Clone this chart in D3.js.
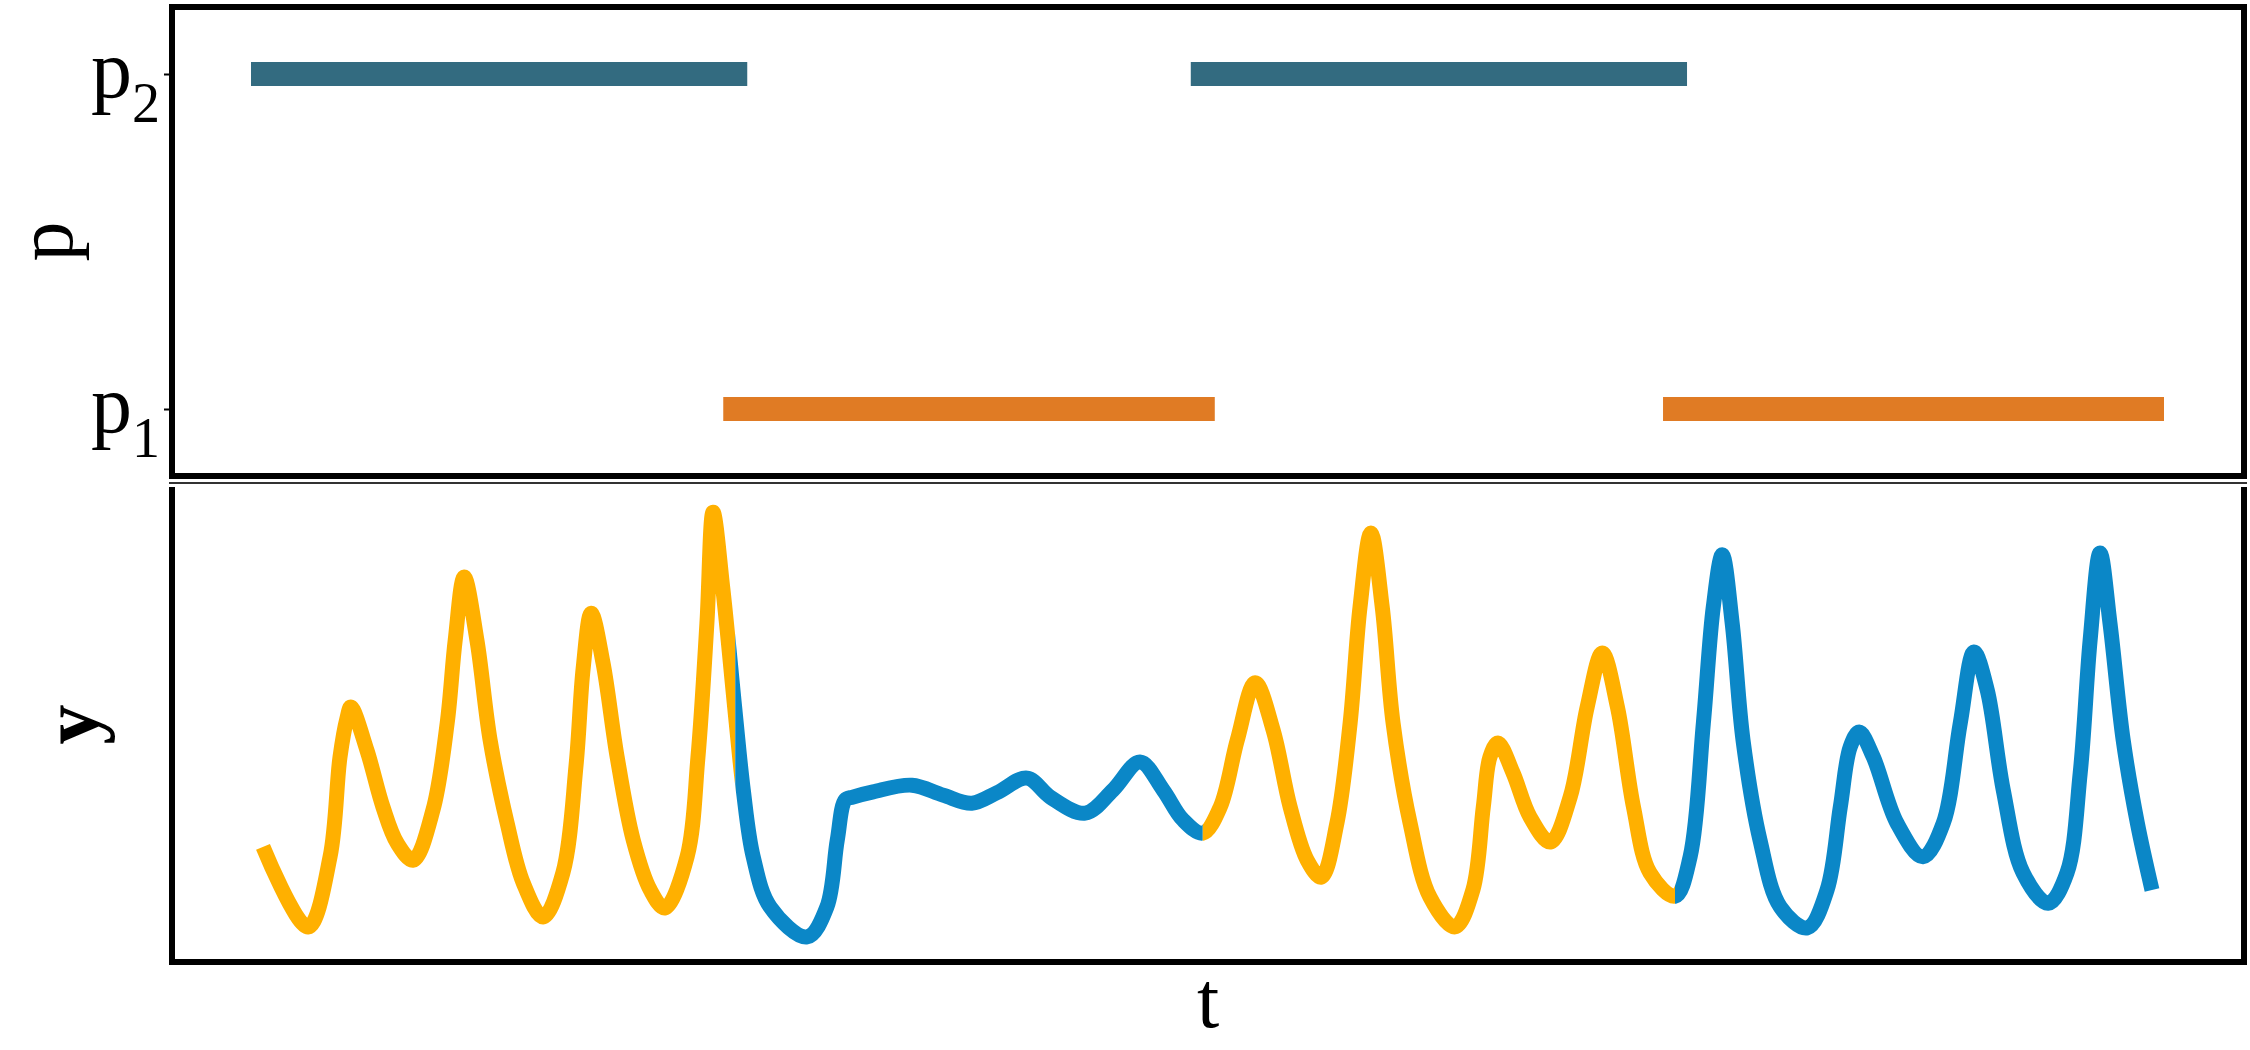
<!DOCTYPE html>
<html>
<head>
<meta charset="utf-8">
<script src="https://cdn.jsdelivr.net/npm/d3@7"></script>
<style>
  html, body { margin: 0; padding: 0; background: #ffffff; }
  svg { display: block; }
  .serif { font-family: "Liberation Serif", "Times New Roman", Times, "Nimbus Roman", Tinos, serif; }
</style>
</head>
<body>
<script>
// ---------------- data ----------------
const switchTimes = [0, 10, 19.9, 29.9, 40];
const modes = ["p2", "p1", "p2", "p1"];
const modeLevels = ["p1", "p2"];
const modeSubscripts = { p1: "1", p2: "2" };

const tValues = [
  0.00, 0.95, 1.42, 1.63, 1.78, 1.86, 2.20, 2.54, 2.84, 3.18, 3.60, 3.90, 4.07, 4.26, 4.53, 4.81, 5.17, 5.51, 5.93,
  6.35, 6.63, 6.78, 6.95, 7.20, 7.50, 7.84, 8.20, 8.51, 8.98, 9.21, 9.40, 9.53, 9.74, 10.00,
  10.17, 10.38, 10.74, 11.52, 11.94, 12.16, 12.33, 12.49, 12.92, 13.74, 14.40, 15.01, 15.54, 16.18, 16.67,
  17.41, 18.00, 18.57, 19.06, 19.48, 19.90,
  20.27, 20.63, 21.01, 21.39, 21.75, 22.11, 22.41, 22.74, 23.02, 23.23, 23.46, 23.70, 23.93, 24.29, 24.71,
  25.24, 25.62, 25.84, 25.98, 26.15, 26.47, 26.83, 27.26, 27.68, 28.04, 28.36, 28.68, 29.02, 29.37, 29.90,
  30.22, 30.50, 30.71, 30.90, 31.11, 31.34, 31.70, 32.13, 32.70, 33.12, 33.40, 33.61, 33.80, 34.10, 34.60,
  35.15, 35.58, 35.94, 36.23, 36.51, 36.85, 37.27, 37.80, 38.20, 38.48, 38.69, 38.90, 39.11, 39.39, 39.69, 40.00
];
const yValues = [
  2.43, 0.74, 2.22, 4.32, 5.15, 5.38, 4.47, 3.27, 2.51, 2.15, 3.21, 5.04, 6.79, 8.12, 6.79, 4.68, 2.93, 1.67, 0.95,
  1.88, 4.16, 6.20, 7.36, 6.31, 4.32, 2.57, 1.52, 1.14, 2.22, 4.32, 7.15, 9.49, 7.85, 5.25,
  3.63, 2.22, 1.16, 0.53, 1.16, 2.57, 3.42, 3.48, 3.59, 3.73, 3.52, 3.35, 3.57, 3.88, 3.48,
  3.14, 3.63, 4.22, 3.63, 3.00, 2.72,
  3.27, 4.68, 5.89, 4.89, 3.27, 2.15, 1.79, 2.93, 5.04, 7.49, 9.05, 7.49, 5.04, 2.93, 1.37,
  0.74, 1.52, 3.27, 4.32, 4.62, 3.99, 3.06, 2.53, 3.48, 5.38, 6.52, 5.38, 3.27, 1.88, 1.39,
  2.22, 5.04, 7.49, 8.59, 7.15, 4.68, 2.57, 1.16, 0.72, 1.52, 3.27, 4.54, 4.85, 4.32, 2.93,
  2.22, 2.93, 5.04, 6.54, 5.74, 3.63, 1.88, 1.24, 1.88, 3.99, 6.79, 8.63, 7.15, 4.68, 2.93, 1.52
];

// ---------------- styles ----------------
const barColors = { p2: "#336b80", p1: "#e07b24" };
const lineColors = ["#ffb000", "#0b87c7", "#ffb000", "#0b87c7"];

// ---------------- layout ----------------
const W = 2250, H = 1050;
const left = 172, right = 2244;
const top1 = 7, bottom1 = 476;
const top2 = 487, bottom2 = 962;

const svg = d3.select("body").append("svg")
  .attr("width", W).attr("height", H)
  .attr("viewBox", `0 0 ${W} ${H}`);

svg.append("rect").attr("width", W).attr("height", H).attr("fill", "#ffffff");

const x = d3.scaleLinear().domain([0, 40]).range([263, 2152]);
const yP = d3.scalePoint().domain(modeLevels).range([bottom1, top1]).padding(0.2);
const y = d3.scaleLinear().domain([0, 10]).range([962, 488]);

// ---------------- top panel: mode bars ----------------
const intervals = modes.map((m, i) => ({ mode: m, t0: switchTimes[i], t1: switchTimes[i + 1] }));

svg.append("g").selectAll("line")
  .data(intervals)
  .join("line")
  .attr("x1", d => x(d.t0))
  .attr("x2", d => x(d.t1))
  .attr("y1", d => yP(d.mode))
  .attr("y2", d => yP(d.mode))
  .attr("stroke", d => barColors[d.mode])
  .attr("stroke-width", 24)
  .attr("stroke-linecap", "square");

// axis ticks
const axP = svg.append("g")
  .attr("transform", `translate(${left - 3},0)`)
  .call(d3.axisLeft(yP).tickSize(5).tickFormat(""));
axP.select(".domain").remove();
axP.selectAll(".tick line").attr("stroke", "#000").attr("stroke-width", 2);

// tick labels with subscripts
const tickLabels = svg.append("g").selectAll("text")
  .data(modeLevels)
  .join("text")
  .attr("class", "serif")
  .attr("x", 160)
  .attr("y", d => yP(d) + 23)
  .attr("text-anchor", "end")
  .attr("font-size", 82)
  .attr("fill", "#000");
tickLabels.append("tspan").text("p");
tickLabels.append("tspan").attr("dy", 25).attr("font-size", 56).text(d => modeSubscripts[d]);

// frame top panel
svg.append("rect")
  .attr("x", left).attr("y", top1)
  .attr("width", right - left).attr("height", bottom1 - top1)
  .attr("fill", "none").attr("stroke", "#000").attr("stroke-width", 6);

// axis label p
svg.append("text")
  .attr("class", "serif")
  .attr("transform", `translate(72,${(top1 + bottom1) / 2}) rotate(-90)`)
  .attr("text-anchor", "middle")
  .attr("font-size", 80)
  .attr("fill", "#000")
  .text("p");

// ---------------- bottom panel: trajectory ----------------
const pts = tValues.map((t, i) => ({ t, v: yValues[i] }));
const lineGen = d3.line().x(d => x(d.t)).y(d => y(d.v)).curve(d3.curveCatmullRom.alpha(0.5));

const defs = svg.append("defs");
intervals.forEach((iv, i) => {
  const x0 = i === 0 ? 0 : x(iv.t0);
  const x1 = i === intervals.length - 1 ? W : x(iv.t1);
  defs.append("clipPath").attr("id", "seg" + i)
    .append("rect")
    .attr("x", x0).attr("y", 0)
    .attr("width", x1 - x0).attr("height", H);
});

const fullPath = lineGen(pts);
svg.append("g").selectAll("path")
  .data(intervals)
  .join("path")
  .attr("d", fullPath)
  .attr("clip-path", (d, i) => `url(#seg${i})`)
  .attr("fill", "none")
  .attr("stroke", (d, i) => lineColors[i])
  .attr("stroke-width", 15)
  .attr("stroke-linejoin", "round")
  .attr("stroke-linecap", "butt");

// frame bottom panel
svg.append("line")
  .attr("x1", left - 3).attr("x2", right + 3)
  .attr("y1", 483).attr("y2", 483)
  .attr("stroke", "#333").attr("stroke-width", 2);
svg.append("path")
  .attr("d", `M${left},${top2} V${bottom2} H${right} V${top2}`)
  .attr("fill", "none").attr("stroke", "#000").attr("stroke-width", 6);

// axis labels
svg.append("text")
  .attr("class", "serif")
  .attr("transform", `translate(98,${(top2 + bottom2) / 2}) rotate(-90)`)
  .attr("text-anchor", "middle")
  .attr("font-weight", "bold")
  .attr("font-size", 80)
  .attr("fill", "#000")
  .text("y");

svg.append("text")
  .attr("class", "serif")
  .attr("x", (left + right) / 2)
  .attr("y", 1027)
  .attr("text-anchor", "middle")
  .attr("font-size", 80)
  .attr("fill", "#000")
  .text("t");
</script>
</body>
</html>
